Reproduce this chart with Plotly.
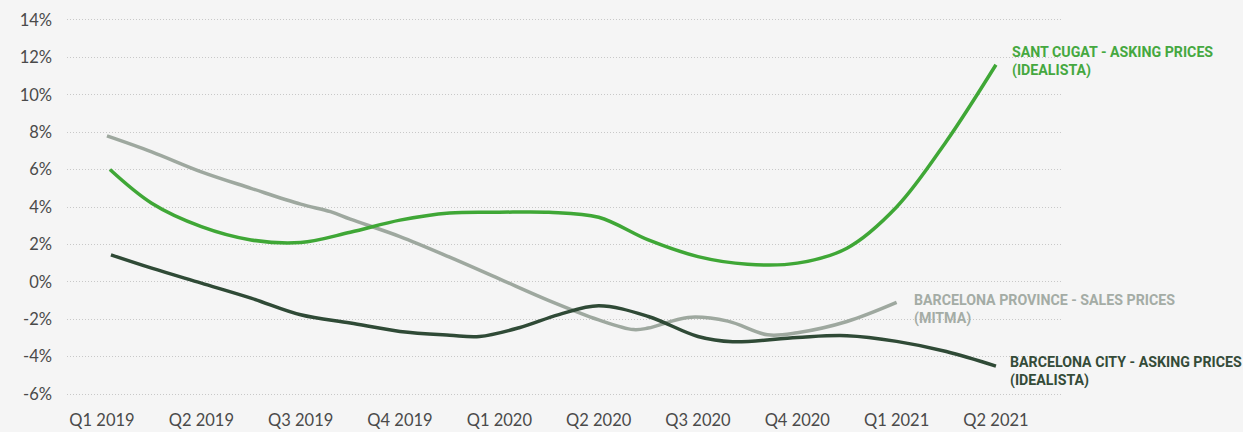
import plotly.graph_objects as go

quarters = ["Q1 2019", "Q2 2019", "Q3 2019", "Q4 2019", "Q1 2020",
            "Q2 2020", "Q3 2020", "Q4 2020", "Q1 2021", "Q2 2021"]

# positions on the quarter axis (0 = Q1 2019)
pos_sant = [0.08, 0.5, 1, 1.5, 2, 2.5, 3, 3.5, 4, 4.5, 5, 5.5, 6, 6.5, 7, 7.5, 8, 8.5, 9]
sant_cugat = [6.0, 4.2, 2.95, 2.24, 2.1, 2.65, 3.3, 3.68, 3.72, 3.72, 3.45, 2.24, 1.35, 0.94, 1.0, 1.8, 4.0, 7.5, 11.6]

pos_prov = [0.05, 0.5, 1, 1.5, 2, 2.3, 2.5, 3, 3.5, 4, 4.5, 5, 5.35, 5.5, 5.9, 6.3, 6.7, 7, 7.5, 8]
bcn_province = [7.8, 6.95, 5.88, 5.0, 4.15, 3.75, 3.35, 2.42, 1.32, 0.16, -1.0, -2.03, -2.55, -2.47, -1.9, -2.1, -2.83, -2.72, -2.12, -1.1]

pos_city = [0.09, 0.5, 1, 1.5, 2, 2.5, 3, 3.5, 3.8, 4.2, 4.6, 5, 5.5, 6, 6.35, 7, 7.5, 8, 8.5, 9]
bcn_city = [1.44, 0.73, -0.07, -0.87, -1.76, -2.2, -2.65, -2.85, -2.92, -2.45, -1.75, -1.28, -1.85, -2.92, -3.2, -2.97, -2.88, -3.18, -3.72, -4.5]

y_ticks = [-6, -4, -2, 0, 2, 4, 6, 8, 10, 12, 14]

c_green = "#3FA736"
c_gray = "#9EA89F"
c_dark = "#2F4A36"

fig = go.Figure()
fig.add_trace(go.Scatter(x=pos_prov, y=bcn_province, mode="lines",
                         line=dict(color=c_gray, width=3.5, shape="spline", smoothing=1.0),
                         hoverinfo="skip"))
fig.add_trace(go.Scatter(x=pos_sant, y=sant_cugat, mode="lines",
                         line=dict(color=c_green, width=3.5, shape="spline", smoothing=1.0),
                         hoverinfo="skip"))
fig.add_trace(go.Scatter(x=pos_city, y=bcn_city, mode="lines",
                         line=dict(color=c_dark, width=3.5, shape="spline", smoothing=1.0),
                         hoverinfo="skip"))

lab_font = "Roboto, sans-serif"
fig.add_annotation(x=9.14, y=11.8, xref="x", yref="y", xanchor="left", yanchor="middle",
                   align="left", showarrow=False,
                   text="<b>SANT CUGAT - ASKING PRICES<br>(IDEALISTA)</b>",
                   font=dict(family=lab_font, size=14.2, color="#45A840"))
fig.add_annotation(x=8.15, y=-1.5, xref="x", yref="y", xanchor="left", yanchor="middle",
                   align="left", showarrow=False,
                   text="<b>BARCELONA PROVINCE - SALES PRICES<br>(MITMA)</b>",
                   font=dict(family=lab_font, size=14.2, color="#A4ACA5"))
fig.add_annotation(x=9.12, y=-4.8, xref="x", yref="y", xanchor="left", yanchor="middle",
                   align="left", showarrow=False,
                   text="<b>BARCELONA CITY - ASKING PRICES<br>(IDEALISTA)</b>",
                   font=dict(family=lab_font, size=14.2, color="#344B38"))

fig.update_layout(
    width=1243, height=432,
    margin=dict(l=67, r=181, t=18, b=36),
    paper_bgcolor="#F5F5F5", plot_bgcolor="#F5F5F5",
    showlegend=False,
    font=dict(family="Lato, sans-serif", size=16.5, color="#4A4A4A"),
)
fig.update_xaxes(
    range=[-0.3524, 9.665], tickmode="array", tickvals=list(range(len(quarters))),
    ticktext=quarters, showgrid=False, zeroline=False, showline=False,
    ticks="", ticklabelstandoff=12, automargin=False,
)
fig.update_yaxes(
    range=[-6.1, 14.1], tickmode="array", tickvals=y_ticks,
    ticktext=[f"{v}%" for v in y_ticks], showgrid=True, gridcolor="#C8C8C8",
    griddash="1px,2px", gridwidth=1, zeroline=False, showline=False, ticks="",
    ticklabelstandoff=14, automargin=False,
)

fig.write_html("out.html", config={"displayModeBar": False},
               post_script="document.body.style.margin='0';document.body.style.overflow='hidden';")
